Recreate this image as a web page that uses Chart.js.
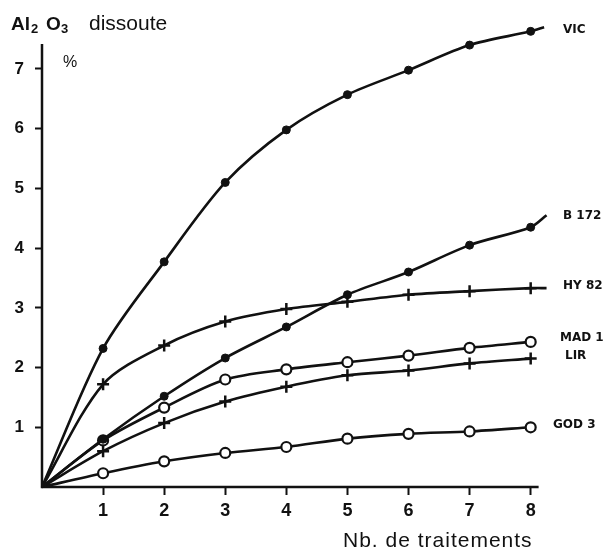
<!DOCTYPE html>
<html lang="fr">
<head>
<meta charset="utf-8">
<script src="https://cdn.jsdelivr.net/npm/chart.js@4/dist/chart.umd.min.js"></script>
<style>
  html, body { margin: 0; padding: 0; background: #fff; }
</style>
</head>
<body>
<canvas id="alumine" width="608" height="551"></canvas>
<script>
// --- DONNEES ---
// nombre de traitements (0 = origine commune des courbes)
const traitements = [0, 1, 2, 3, 4, 5, 6, 7, 8];

// Al2O3 dissoute (%) apres chaque traitement
const vic  = [0, 2.32, 3.77, 5.10, 5.98, 6.57, 6.98, 7.40, 7.63];
const b172 = [0, 0.80, 1.52, 2.16, 2.68, 3.22, 3.60, 4.05, 4.35];
const hy82 = [0, 1.72, 2.37, 2.77, 2.98, 3.10, 3.22, 3.28, 3.33];
const mad1 = [0, 0.78, 1.33, 1.80, 1.97, 2.09, 2.20, 2.33, 2.43];
const lir  = [0, 0.60, 1.07, 1.43, 1.68, 1.87, 1.95, 2.07, 2.15];
const god3 = [0, 0.23, 0.43, 0.57, 0.67, 0.81, 0.89, 0.93, 1.00];

// prolongement du trace apres le 8e traitement [x, y]
const vicFin  = [8.22, 7.70];
const b172Fin = [8.26, 4.55];
const hy82Fin = [8.26, 3.33];

const ticksX = [1, 2, 3, 4, 5, 6, 7, 8];
const ticksY = [1, 2, 3, 4, 5, 6, 7];

const NOIR = '#111';

// --- CONSTRUCTION D'UNE SERIE ---
function serie(nom, valeurs, fin, marque) {
    const pts = traitements.map((t, i) => ({ x: t, y: valeurs[i] }));
    if (fin) pts.push({ x: fin[0], y: fin[1] });

    const styles = {
        plein: { style: 'circle', r: 4, bg: NOIR, bw: 1 },
        croix: { style: 'cross', r: 6, bg: NOIR, bw: 2.5 },
        creux: { style: 'circle', r: 5, bg: '#fff', bw: 2.2 }
    }[marque];

    // pas de marqueur a l'origine ni sur le prolongement
    const avecMarque = c => c.raw && c.raw.x >= 1 && c.raw.x <= 8 && Number.isInteger(c.raw.x);

    return {
        label: nom,
        data: pts,
        borderColor: NOIR,
        borderWidth: 2.6,
        tension: 0.3,
        fill: false,
        clip: false,
        pointStyle: styles.style,
        pointRadius: c => avecMarque(c) ? styles.r : 0,
        pointBackgroundColor: styles.bg,
        pointBorderColor: NOIR,
        pointBorderWidth: styles.bw,
        pointHoverRadius: 0
    };
}

// --- TEXTES ET AXES DESSINES A LA MAIN ---
// [x gauche du texte, decalage vertical par rapport au dernier point]
const placeEtiquettes = {
    'VIC':   [563, 3],
    'B 172': [563, 1],
    'HY 82': [563, -2],
    'MAD 1': [560, -4],
    'LIR':   [565, -3],
    'GOD 3': [553, -2]
};

const habillage = {
    id: 'habillage',
    beforeDatasetsDraw(chart) {
        const { ctx, scales: { x, y } } = chart;
        const x0 = x.getPixelForValue(0);
        const y0 = y.getPixelForValue(0);
        ctx.save();
        ctx.strokeStyle = NOIR;
        ctx.lineWidth = 2.5;
        ctx.beginPath();
        ctx.moveTo(x0, y.getPixelForValue(7.42));
        ctx.lineTo(x0, y0);
        ctx.lineTo(x.getPixelForValue(8.13), y0);
        ctx.stroke();
        ctx.restore();
    },
    afterDraw(chart) {
        const { ctx, scales: { y } } = chart;
        ctx.save();
        ctx.fillStyle = NOIR;
        ctx.textBaseline = 'alphabetic';

        // titre de l'axe vertical : Al2 O3 dissoute
        ctx.font = 'bold 19px "Liberation Sans", Arial, sans-serif';
        ctx.fillText('Al', 11, 30);
        ctx.fillText('O', 46, 30);
        ctx.font = 'bold 13px "Liberation Sans", Arial, sans-serif';
        ctx.fillText('2', 31, 33);
        ctx.fillText('3', 61, 33);
        ctx.font = '21px "Liberation Sans", Arial, sans-serif';
        ctx.fillText('dissoute', 89, 30);
        ctx.font = '16px "Liberation Sans", Arial, sans-serif';
        ctx.fillText('%', 63, 67);

        // titre de l'axe horizontal
        ctx.font = '21px "Liberation Sans", Arial, sans-serif';
        ctx.letterSpacing = '1px';
        ctx.fillText('Nb. de traitements', 343, 547);
        ctx.letterSpacing = '0px';

        // nom des echantillons en bout de courbe
        ctx.font = 'bold 12px "DejaVu Sans", sans-serif';
        ctx.textBaseline = 'middle';
        chart.data.datasets.forEach(ds => {
            const dernier = ds.data[ds.data.length - 1];
            const [px, dy] = placeEtiquettes[ds.label];
            ctx.fillText(ds.label, px, y.getPixelForValue(dernier.y) + dy);
        });
        ctx.restore();
    }
};

// --- GRAPHIQUE ---
const ctx = document.getElementById('alumine').getContext('2d');
new Chart(ctx, {
    type: 'line',
    data: {
        datasets: [
            serie('VIC', vic, vicFin, 'plein'),
            serie('B 172', b172, b172Fin, 'plein'),
            serie('HY 82', hy82, hy82Fin, 'croix'),
            serie('MAD 1', mad1, null, 'creux'),
            serie('LIR', lir, null, 'croix'),
            serie('GOD 3', god3, null, 'creux')
        ]
    },
    options: {
        responsive: false,
        animation: false,
        devicePixelRatio: 1,
        layout: { padding: { left: 0, top: 19, right: 59, bottom: 0 } },
        plugins: { legend: { display: false }, tooltip: { enabled: false } },
        scales: {
            x: {
                type: 'linear',
                min: 0,
                max: 8.3,
                afterBuildTicks: s => { s.ticks = ticksX.map(v => ({ value: v })); },
                afterFit: s => { s.height = 64; },
                border: { display: false },
                grid: { drawOnChartArea: false, tickLength: 8, tickWidth: 2, tickColor: NOIR },
                ticks: {
                    color: NOIR,
                    padding: 5,
                    maxRotation: 0,
                    autoSkip: false,
                    font: { family: '"Liberation Sans", Arial, sans-serif', size: 18, weight: 'bold' }
                }
            },
            y: {
                min: 0,
                max: 7.8,
                afterBuildTicks: s => { s.ticks = ticksY.map(v => ({ value: v })); },
                afterFit: s => { s.width = 42; },
                border: { display: false },
                grid: { drawOnChartArea: false, tickLength: 7, tickWidth: 2, tickColor: NOIR },
                ticks: {
                    color: NOIR,
                    padding: 11,
                    autoSkip: false,
                    font: { family: '"Liberation Sans", Arial, sans-serif', size: 17, weight: 'bold' }
                }
            }
        }
    },
    plugins: [habillage]
});
</script>
</body>
</html>
